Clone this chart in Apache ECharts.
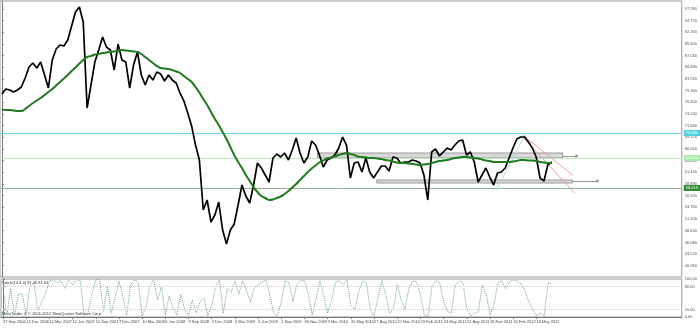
<!DOCTYPE html>
<html><head><meta charset="utf-8">
<script src="https://cdn.jsdelivr.net/npm/echarts@6/dist/echarts.min.js"></script>
<style>html,body{margin:0;padding:0;background:#fff}#c{width:700px;height:328px}</style>
</head><body><div id="c"></div>
<script>
const dateLabels = ['27 Sep 2006','12 Dec 2006','14 Mar 2007','12 Jun 2007','10 Sep 2007','7 Dec 2007','10 Mar 2008','6 Jun 2008','9 Sep 2008','5 Dec 2008','5 Mar 2009','3 Jun 2009','1 Sep 2009','30 Nov 2009','3 Mar 2010','31 May 2010','27 Aug 2010','25 Nov 2010','23 Feb 2011','24 May 2011','22 Aug 2011','18 Nov 2011','16 Feb 2012','16 May 2012'];
const price = [78.63,79.73,79.51,79.07,79.51,80.17,82.14,84.56,85.43,84.34,85.65,82.80,79.95,86.09,88.51,89.38,89.16,90.48,93.55,96.62,97.72,94.43,75.56,80.61,85.65,88.29,91.14,88.94,88.29,83.90,89.60,86.09,85.65,79.95,85.00,87.85,82.80,80.61,82.80,81.70,83.46,83.02,81.48,82.80,81.70,81.05,78.85,77.10,74.46,71.61,67.44,64.16,53.19,55.38,50.55,52.09,54.94,48.80,45.73,48.80,50.13,54.28,58.67,56.26,54.72,58.67,63.50,62.40,60.86,59.33,64.59,65.47,64.81,65.69,64.16,66.35,68.98,65.69,63.50,64.81,68.32,67.44,65.25,62.62,64.16,64.59,65.25,66.79,69.20,67.44,60.21,63.50,63.72,61.52,64.59,61.52,60.21,61.52,62.84,62.84,61.74,64.81,64.59,63.50,63.72,63.72,64.16,63.94,63.50,60.86,55.38,65.91,66.57,65.03,65.91,66.79,66.35,67.44,68.32,68.54,65.25,65.91,63.72,59.33,60.86,62.40,60.42,58.67,61.30,61.52,62.40,64.59,66.79,68.76,69.20,69.20,68.10,66.79,64.81,60.21,59.55,63.06,63.72];
const ma200 = [75.34,75.12,75.12,75.01,74.90,74.90,75.34,76.00,76.66,77.21,77.76,78.41,79.07,79.73,80.50,81.27,82.03,82.80,83.68,84.45,85.32,86.09,86.75,86.97,87.30,87.41,87.63,87.74,87.85,87.96,88.07,88.29,88.18,88.07,87.96,87.85,87.41,86.75,86.09,85.43,84.77,84.34,84.23,84.12,83.90,83.57,83.24,82.58,81.92,81.27,80.17,78.96,77.54,76.22,74.68,73.16,71.83,70.30,68.76,67.01,65.25,63.72,62.40,60.86,59.55,58.23,57.13,56.26,55.82,55.38,55.49,55.82,56.15,56.70,57.35,58.12,58.89,59.77,60.64,61.52,62.29,62.95,63.61,64.05,64.48,64.70,64.92,65.25,65.47,65.69,65.47,65.25,64.92,64.81,64.70,64.59,64.59,64.48,64.37,64.16,64.05,63.83,63.61,63.50,63.50,63.39,63.28,63.17,63.06,63.17,63.28,63.50,63.72,63.94,64.05,64.16,64.37,64.59,64.70,64.81,64.81,64.70,64.59,64.48,64.26,64.05,63.94,63.72,63.72,63.72,63.72,63.72,63.83,63.94,64.16,64.16,64.05,64.05,63.94,63.72,63.61,63.50,63.50];
const stochK = [75,5,75,5,60,60,7,85,88,17,40,60,95,98,90,95,75,97,85,98,95,3,10,60,98,98,15,80,10,50,95,55,5,85,98,90,3,25,85,97,45,80,5,55,25,5,60,20,5,45,10,40,50,3,30,80,98,10,75,65,95,60,95,70,40,75,85,92,97,60,10,3,40,95,90,40,85,97,95,60,5,50,95,55,10,45,92,95,85,97,30,20,65,95,90,20,3,50,95,60,10,20,85,45,20,75,95,92,60,5,3,80,95,90,40,15,10,85,95,90,20,3,10,15,85,60,5,30,90,95,75,92,97,95,88,70,40,20,3,10,3,90,88];
const priceTicks = [40.96,43.52,46.08,48.64,51.20,53.76,56.32,58.88,61.44,64.00,66.56,69.12,71.68,74.24,76.80,79.36,81.92,84.48,87.04,89.60,92.16,94.72,97.28];
const stochTicks = [0,20,80,100];
const stochLevels = [20,80];
const levelCyan = 70.08, levelLightGreen = 64.59, levelGreen = 58.01;
const boxUpper = [[81.5,65.69],[144.8,64.59]];
const boxLower = [[96.8,59.77],[147.4,59.11]];
const extUpper = [[144.8,65.03],[148.4,65.03]];
const extLower = [[147.4,59.55],[153.8,59.55]];
const redLineA = [[134.5,69.64],[147.4,60.86]];
const redLineB = [[134.5,69.20],[147.9,56.92]];
const blueLine = [[127.7,57.57],[135.1,69.64]];
const stochText = 'Stoch(14,3,3) 87.46 81.63';
const copyText = 'MetaTrader 4, © 2001-2012 MetaQuotes Software Corp.';

const FONT = 'Liberation Sans';
const FS = 4;
const chart = echarts.init(document.getElementById('c'));
const toPairs = a => a.map((v,i)=>[i,v]);
const seg = (p, color, w, sym) => [{coord:p[0], lineStyle:{color:color,width:w,type:'solid'}, symbol:'none'},{coord:p[1], symbol: sym||'none', symbolSize:3}];
const hlabel = (bg, fg) => ({show:true, position:'end', distance:2, formatter: p => p.value.toFixed(3), fontSize:FS, fontFamily:FONT, color:fg, backgroundColor:bg, padding:[1,2,1,2]});
const xTicks = dateLabels.map((d,k)=>k*6);

chart.setOption({
  animation:false,
  backgroundColor:'#fff',
  grid:[
    {left:0, width:683, top:1, height:276, show:true, borderColor:'#999', borderWidth:1},
    {left:0, width:683, top:279, height:38, show:true, borderColor:'#999', borderWidth:1}
  ],
  xAxis:[
    {type:'value', gridIndex:0, min:-0.5, max:175.6, show:false},
    {type:'value', gridIndex:1, min:-0.5, max:175.6, position:'bottom',
     axisLine:{show:true, lineStyle:{color:'#777'}}, splitLine:{show:false},
     axisTick:{show:true, customValues:xTicks, length:2, lineStyle:{color:'#777'}},
     axisLabel:{show:true, customValues:xTicks, hideOverlap:false, showMinLabel:true, formatter: v => dateLabels[Math.round(v/6)] || '', align:'left', fontSize:FS, fontFamily:FONT, color:'#444', margin:3}}
  ],
  yAxis:[
    {type:'value', gridIndex:0, position:'right', min:38.49, max:99.035,
     axisLine:{show:true, lineStyle:{color:'#777'}}, splitLine:{show:false},
     axisTick:{show:true, customValues:priceTicks, length:2, lineStyle:{color:'#777'}},
     axisLabel:{show:true, customValues:priceTicks, hideOverlap:false, formatter: v => v.toFixed(3), fontSize:FS, fontFamily:FONT, color:'#555', margin:3, align:'left'}},
    {type:'value', gridIndex:1, position:'right', min:0, max:100,
     axisLine:{show:true, lineStyle:{color:'#777'}}, splitLine:{show:false},
     axisTick:{show:true, customValues:stochTicks, length:2, lineStyle:{color:'#777'}},
     axisLabel:{show:true, customValues:stochTicks, hideOverlap:false, formatter: v => v.toFixed(2), fontSize:FS, fontFamily:FONT, color:'#555', margin:3, align:'left'}}
  ],
  series:[
    {type:'line', xAxisIndex:0, yAxisIndex:0, data:toPairs(price), symbol:'none', z:5,
     lineStyle:{color:'#000', width:1.7},
     markLine:{silent:true, symbol:'none', animation:false, data:[
        {yAxis:levelCyan, lineStyle:{color:'#6fd6e8', width:1, type:'solid'}, label:hlabel('#4fcfe2','#fff')},
        {yAxis:levelLightGreen, lineStyle:{color:'#b6ecb6', width:1, type:'solid'}, label:hlabel('#a8eaa8','#fff')},
        {yAxis:levelGreen, lineStyle:{color:'#94b094', width:1, type:'solid'}, label:hlabel('#2e8b2e','#fff')},
        seg(redLineA,'#eea0a0',1), seg(redLineB,'#eea0a0',1), seg(blueLine,'#a8dce8',1),
        seg(extUpper,'#999',1,'circle'), seg(extLower,'#999',1,'circle')
     ]},
     markArea:{silent:true, data:[
        [{coord:boxUpper[0], itemStyle:{color:'rgba(170,170,170,0.45)', borderColor:'#999', borderWidth:1}},{coord:boxUpper[1]}],
        [{coord:boxLower[0], itemStyle:{color:'rgba(170,170,170,0.45)', borderColor:'#999', borderWidth:1}},{coord:boxLower[1]}]
     ]}},
    {type:'line', xAxisIndex:0, yAxisIndex:0, data:toPairs(ma200), symbol:'none', z:6, smooth:true,
     lineStyle:{color:'#1f7a1f', width:2}},
    {type:'line', xAxisIndex:1, yAxisIndex:1, data:toPairs(stochK), symbol:'none',
     lineStyle:{color:'#6f9f94', width:1, type:'dotted'},
     markLine:{silent:true, symbol:'none', label:{show:false}, data: stochLevels.map(v=>({yAxis:v, lineStyle:{color:'#ccc', width:1, type:'dotted'}}))}}
  ],
  graphic:[
    {type:'text', left:2, top:281, style:{text:stochText, fontSize:FS, fontFamily:FONT, fill:'#333'}},
    {type:'text', left:2, top:312, style:{text:copyText, fontSize:FS, fontFamily:FONT, fill:'#333'}}
  ]
});
</script></body></html>
